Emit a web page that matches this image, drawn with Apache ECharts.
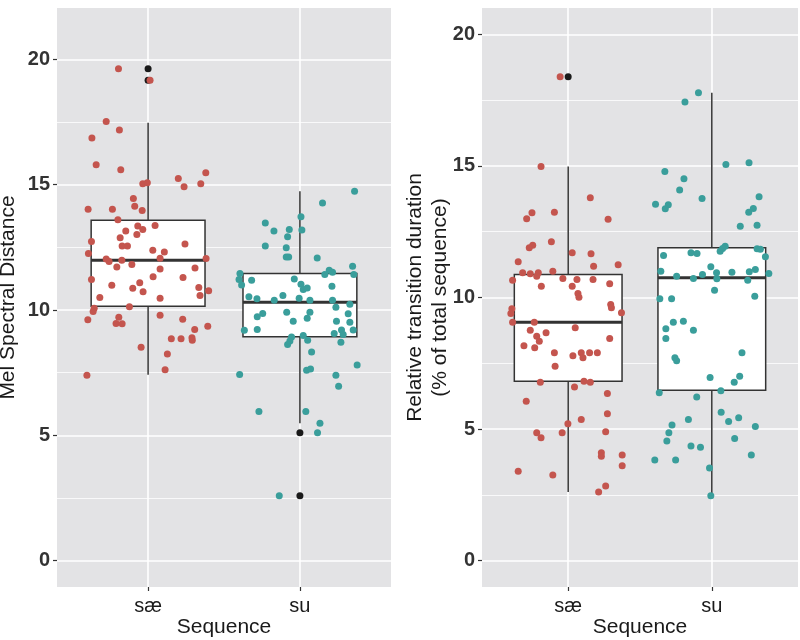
<!DOCTYPE html>
<html><head><meta charset="utf-8">
<script src="https://cdn.jsdelivr.net/npm/echarts@6/dist/echarts.min.js"></script>
<style>html,body{margin:0;padding:0;background:#fff}#c{width:800px;height:640px}</style>
</head><body><div id="c"></div>
<script>
// ---------- data ----------
const categories = ['sæ', 'su'];
const yTicks = [0, 5, 10, 15, 20];
const yMinorTicks = [2.5, 7.5, 12.5, 17.5];

// Panel 1: Mel Spectral Distance
// box stats: [category position, lower whisker, Q1, median, Q3, upper whisker]
const melBoxes = [[1, 7.42, 10.15, 11.99, 13.58, 17.47], [2, 5.48, 8.93, 10.31, 11.46, 14.74]];
const melOutliers = [[1, 19.63], [1, 19.17], [2, 5.10], [2, 2.59]];
const melSaeX = [0.805,1.013,0.724,0.811,0.630,0.658,0.820,1.380,1.199,1.237,
1.347,0.965,0.995,0.903,0.912,0.961,0.605,0.765,0.801,1.046,
0.932,0.965,0.926,0.853,0.816,0.627,0.829,0.864,1.243,1.031,
1.107,0.607,0.724,0.743,0.827,1.079,1.382,0.794,0.893,1.309,
1.079,0.627,1.033,1.230,0.945,0.761,0.899,0.967,1.334,1.399,
1.342,0.682,1.079,0.877,0.645,0.638,0.603,0.807,0.789,0.829,
1.079,1.228,1.393,1.307,1.153,1.217,1.289,1.291,0.954,1.127,
1.112,0.597];
const melSaeY = [19.63,19.17,17.52,17.18,16.86,15.80,15.60,15.48,15.25,14.92,
15.04,15.04,15.08,14.45,14.14,13.97,14.02,14.02,13.60,13.37,
13.35,13.21,13.01,13.15,12.88,12.73,12.55,12.55,12.63,12.39,
12.32,12.26,12.04,11.94,11.99,12.07,12.06,11.72,11.82,11.68,
11.64,11.22,11.33,11.30,11.09,10.99,10.87,10.73,10.90,10.77,
10.58,10.50,10.47,10.13,10.07,9.94,9.61,9.71,9.46,9.45,
9.79,9.63,9.35,9.22,8.85,8.85,8.89,8.79,8.52,8.25,
7.62,7.40];
const melSuX = [2.360,2.149,2.007,1.772,1.829,1.930,2.013,1.919,1.772,1.910,
1.910,1.926,2.114,2.347,2.193,2.215,2.164,2.355,1.605,1.599,
1.616,1.682,1.963,2.007,2.022,2.048,2.211,1.664,1.717,1.831,
1.888,1.995,2.066,2.215,2.329,2.237,1.755,1.719,1.913,2.066,
2.048,2.318,1.956,2.241,2.329,1.719,2.274,2.351,1.634,1.945,
1.934,1.919,2.051,2.022,2.226,2.285,2.270,2.077,2.044,2.070,
2.377,1.603,2.237,2.255,1.730,2.039,2.132,2.116,1.864];
const melSuY = [14.74,14.27,13.72,13.47,13.15,13.21,13.19,12.92,12.55,12.48,
12.12,12.12,12.08,11.75,11.59,11.51,11.42,11.42,11.46,11.22,
11.00,11.19,11.24,11.03,10.82,10.88,10.95,10.53,10.45,10.39,
10.58,10.47,10.39,10.39,10.23,10.11,9.86,9.73,9.91,9.91,
9.67,9.85,9.55,9.55,9.51,9.22,9.20,9.20,9.19,8.92,
8.76,8.62,8.79,8.98,9.06,9.02,8.71,8.33,7.60,7.65,
7.81,7.43,7.40,6.96,5.95,5.95,5.48,5.10,2.59];

// Panel 2: Relative transition duration
const relBoxes = [[1, 2.61, 6.82, 9.06, 10.87, 14.98], [2, 2.47, 6.48, 10.75, 11.89, 17.78]];
const relOutliers = [[1, 18.39]];
const relSaeX = [0.944,0.811,1.154,0.748,0.711,0.904,1.278,0.883,0.753,0.729,
1.028,1.159,0.652,1.177,1.348,0.683,0.736,0.792,0.781,0.893,
0.613,0.963,1.061,1.173,0.813,1.028,1.289,1.068,1.075,1.296,
1.301,1.371,0.608,0.601,0.613,0.764,1.049,0.736,0.781,0.799,
0.846,1.289,0.692,0.767,0.904,1.033,1.091,1.103,1.149,1.203,
0.909,0.806,1.110,1.154,1.044,1.273,0.708,1.273,1.091,0.998,
0.958,0.781,0.811,1.261,1.231,1.231,1.376,1.376,0.652,0.893,
1.261,1.212];
const relSaeY = [18.39,14.98,13.79,13.22,12.99,13.24,12.97,12.12,11.99,11.89,
11.70,11.66,11.36,11.19,11.24,10.94,10.90,10.94,10.81,11.00,
10.66,10.72,10.68,10.68,10.43,10.43,10.52,10.15,10.01,9.73,
9.61,9.42,9.57,9.39,9.06,9.06,8.85,8.76,8.53,8.34,
8.66,8.44,8.17,8.09,7.90,7.79,7.90,7.71,7.90,7.90,
7.39,6.78,6.82,6.78,6.60,6.35,6.06,5.58,5.36,5.20,
4.86,4.86,4.67,4.90,4.10,3.97,4.02,3.61,3.40,3.26,
2.84,2.61];
const relSuX = [1.907,1.813,2.098,2.259,1.673,1.806,1.776,1.932,1.608,1.697,
1.676,2.329,2.289,2.257,2.198,2.315,1.664,1.855,1.897,2.058,
2.093,2.075,2.315,2.338,2.373,1.645,1.755,1.872,1.935,1.993,
2.033,2.035,2.140,2.261,2.303,2.250,2.397,2.019,2.299,1.638,
1.720,1.732,1.802,1.680,1.680,1.872,2.210,1.743,1.755,1.988,
2.194,2.156,1.634,2.063,1.895,2.065,2.117,2.187,1.837,1.723,
1.701,1.687,2.303,2.159,1.855,1.921,2.275,1.603,1.748,1.984,
1.993];
const relSuY = [17.78,17.43,15.05,15.12,14.79,14.51,14.08,13.76,13.54,13.52,
13.37,13.83,13.38,13.24,12.71,12.75,11.60,11.70,11.67,11.76,
11.95,11.86,11.85,11.83,11.55,11.00,10.81,10.72,10.87,11.17,
10.94,10.71,10.96,10.98,11.06,10.66,10.91,10.28,10.05,9.95,
9.95,9.06,9.10,8.81,8.44,8.76,7.90,7.71,7.60,6.96,
7.01,6.78,6.38,6.46,6.22,5.64,5.29,5.43,5.36,5.16,
4.86,4.55,5.10,4.64,4.36,4.31,4.02,3.83,3.83,3.52,
2.47];

// ---------- styling ----------
const FONT = 'Liberation Sans, Arial, Helvetica, sans-serif';
const RED = '#c4554e';
const TEAL = '#3a9e9b';
const BOX_W = 0.75;
const zip = (xs, ys) => xs.map((x, i) => [x, ys[i]]);

function renderBox(params, api) {
  const x = api.value(0);
  const lo = api.coord([x, api.value(1)]);
  const q1 = api.coord([x, api.value(2)]);
  const md = api.coord([x, api.value(3)]);
  const q3 = api.coord([x, api.value(4)]);
  const hi = api.coord([x, api.value(5)]);
  const w = api.size([BOX_W, 0])[0];
  const h = w / 2;
  const stroke = '#333333';
  return {
    type: 'group',
    children: [
      { type: 'line', shape: { x1: hi[0], y1: hi[1], x2: q3[0], y2: q3[1] }, style: { stroke, lineWidth: 1.5 } },
      { type: 'line', shape: { x1: q1[0], y1: q1[1], x2: lo[0], y2: lo[1] }, style: { stroke, lineWidth: 1.5 } },
      { type: 'rect', shape: { x: q3[0] - h, y: q3[1], width: w, height: q1[1] - q3[1] }, style: { fill: '#ffffff', stroke, lineWidth: 1.5 } },
      { type: 'line', shape: { x1: md[0] - h, y1: md[1], x2: md[0] + h, y2: md[1] }, style: { stroke, lineWidth: 3 } }
    ]
  };
}

function xAxisFor(gi) {
  return {
    type: 'value', gridIndex: gi, min: 0.4, max: 2.6, position: 'bottom',
    name: 'Sequence', nameLocation: 'middle', nameGap: 30, nameMoveOverlap: false,
    nameTextStyle: { fontFamily: FONT, fontSize: 21, color: '#1a1a1a' },
    axisLine: { show: false, onZero: false },
    axisTick: { show: true, length: 4, lineStyle: { color: '#333', width: 1.2 }, customValues: [1, 2] },
    axisLabel: { customValues: [1, 2], formatter: v => categories[Math.round(v) - 1], fontFamily: FONT, fontSize: 20, color: '#1a1a1a', margin: 9 },
    splitLine: { show: true, lineStyle: { color: '#ffffff', width: 1.6 } }
  };
}
function yAxisFor(gi, min, max, name, gap) {
  return {
    type: 'value', gridIndex: gi, min, max, position: 'left',
    name, nameLocation: 'middle', nameGap: gap, nameMoveOverlap: false,
    nameTextStyle: { fontFamily: FONT, fontSize: 21, color: '#1a1a1a', lineHeight: 25 },
    axisLine: { show: false, onZero: false },
    axisTick: { show: true, length: 4, lineStyle: { color: '#333', width: 1.2 }, customValues: yTicks },
    axisLabel: { customValues: yTicks, fontFamily: FONT, fontSize: 20, fontWeight: 'bold', color: '#333333', margin: 7 },
    splitLine: { show: true, lineStyle: { color: '#ffffff', width: 1.6 } }
  };
}
function yMinorFor(gi, min, max) {
  return {
    type: 'value', gridIndex: gi, min, max, position: 'left',
    axisLine: { show: false, onZero: false },
    axisTick: { show: false, customValues: yMinorTicks },
    axisLabel: { show: false, customValues: yMinorTicks },
    splitLine: { show: true, lineStyle: { color: '#ffffff', width: 0.8 } }
  };
}

const option = {
  backgroundColor: '#ffffff',
  animation: false,
  grid: [
    { left: 57, top: 8, width: 334, height: 579, show: true, backgroundColor: '#e3e3e5', borderWidth: 0, containLabel: false, outerBoundsMode: 'none' },
    { left: 482, top: 8, width: 316, height: 579, show: true, backgroundColor: '#e3e3e5', borderWidth: 0, containLabel: false, outerBoundsMode: 'none' }
  ],
  xAxis: [xAxisFor(0), xAxisFor(1)],
  yAxis: [
    yAxisFor(0, -1.05, 22.05, 'Mel Spectral Distance', 36),
    yAxisFor(1, -1.0, 21.0, 'Relative transition duration\n(% of total sequence)', 29),
    yMinorFor(0, -1.05, 22.05),
    yMinorFor(1, -1.0, 21.0)
  ],
  series: [
    { type: 'custom', xAxisIndex: 0, yAxisIndex: 0, z: 2, renderItem: renderBox, data: melBoxes, encode: { x: 0, y: [1, 2, 3, 4, 5] }, silent: true },
    { type: 'custom', xAxisIndex: 1, yAxisIndex: 1, z: 2, renderItem: renderBox, data: relBoxes, encode: { x: 0, y: [1, 2, 3, 4, 5] }, silent: true },
    { type: 'scatter', xAxisIndex: 0, yAxisIndex: 0, z: 3, symbolSize: 7, itemStyle: { color: '#1a1a1a', opacity: 1 }, data: melOutliers, silent: true },
    { type: 'scatter', xAxisIndex: 1, yAxisIndex: 1, z: 3, symbolSize: 7, itemStyle: { color: '#1a1a1a', opacity: 1 }, data: relOutliers, silent: true },
    { type: 'scatter', xAxisIndex: 0, yAxisIndex: 0, z: 4, symbolSize: 7, itemStyle: { color: RED, opacity: 1 }, data: zip(melSaeX, melSaeY), silent: true },
    { type: 'scatter', xAxisIndex: 0, yAxisIndex: 0, z: 4, symbolSize: 7, itemStyle: { color: TEAL, opacity: 1 }, data: zip(melSuX, melSuY), silent: true },
    { type: 'scatter', xAxisIndex: 1, yAxisIndex: 1, z: 4, symbolSize: 7, itemStyle: { color: RED, opacity: 1 }, data: zip(relSaeX, relSaeY), silent: true },
    { type: 'scatter', xAxisIndex: 1, yAxisIndex: 1, z: 4, symbolSize: 7, itemStyle: { color: TEAL, opacity: 1 }, data: zip(relSuX, relSuY), silent: true }
  ]
};
const chart = echarts.init(document.getElementById('c'));
chart.setOption(option);
</script>
</body></html>
